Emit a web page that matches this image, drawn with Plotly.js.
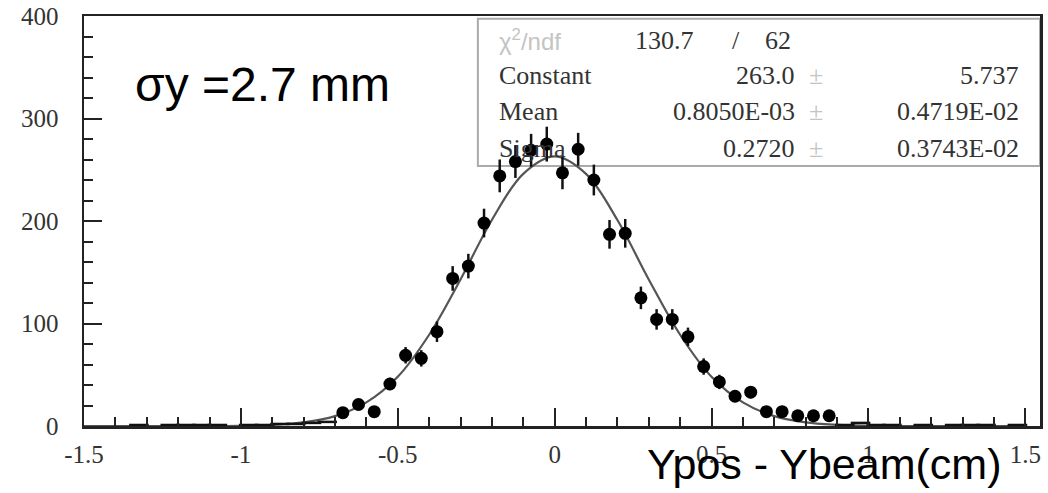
<!DOCTYPE html>
<html>
<head>
<meta charset="utf-8">
<script src="https://cdn.plot.ly/plotly-3.0.1.min.js"></script>
<style>html,body{margin:0;padding:0;background:#fff;}#chart{width:1048px;height:493px;}</style>
</head>
<body>
<div id="chart"></div>
<script>
// Histogram points (bin centres, counts) and their error bars
const binX = [-0.675,-0.625,-0.575,-0.525,-0.475,-0.425,-0.375,-0.325,-0.275,-0.225,-0.175,-0.125,-0.075,-0.025,
              0.025,0.075,0.125,0.175,0.225,0.275,0.325,0.375,0.425,0.475,0.525,0.575,0.625,0.675,0.725,0.775,0.825,0.875];
const counts = [13,21,14,41,69,66,92,144,156,198,244,258,269,275,
                247,270,240,187,188,125,104,104,87,58,43,29,33,14,14,10,10,10];
const countErr = [4,5,4,6,8,8,10,12,12,14,16,16,16,17,
                  16,16,15,14,14,11,10,10,9,8,7,5,6,4,4,3,3,3];
// Low-count tail bins (drawn as short dashes)
const tailX = [-1.325,-1.225,-1.175,-1.125,-1.075,-0.975,-0.925,-0.875,-0.825,-0.775,-0.725,
               0.925,0.975,1.025,1.075,1.175,1.275,1.325,1.375,1.475];
const tailY = [1,1,1,1,1,1,1,2,2,3,4,
               1,3,1,1,1,1,1,1,1];
// Fit curve
const fitX = [-1.5,-1.4,-1.3,-1.2,-1.1,-1.0,-0.9,-0.8,-0.7,-0.6,-0.5,-0.4,-0.3,-0.2,-0.1,0,
              0.1,0.2,0.3,0.4,0.5,0.6,0.7,0.8,0.9,1.0,1.1,1.2,1.3,1.4,1.5];
const fitY = [0,0,0,0,0,0.1,1.1,3.5,9.6,23,48,89,143,201,246,263,
              246,201,143,89,48,23,9.6,3.5,1.1,0.1,0,0,0,0,0];
// Axis ticks
const xTickVals = [-1.5,-1,-0.5,0,0.5,1,1.5];
const xTickText = ["-1.5","-1","-0.5","0","0.5","1","1.5"];
const yTickVals = [0,100,200,300,400];
const yTickText = ["0","100","200","300","400"];
// Fit statistics box
const statNames = ["Constant","Mean","Sigma"];
const statValues = ["263.0","0.8050E-03","0.2720"];
const statErrors = ["5.737","0.4719E-02","0.3743E-02"];
const chi2Text = ["130.7","/","62"];

const serif = "Liberation Serif, Times New Roman, serif";
const sans = "Liberation Sans, Arial, sans-serif";

const traces = [
  {x: fitX, y: fitY, type: 'scatter', mode: 'lines', line: {color: '#555', width: 2.2, shape: 'spline'}, hoverinfo: 'skip'},
  {x: tailX, y: tailY, type: 'scatter', mode: 'markers',
   marker: {symbol: 'line-ew', size: 14, color: '#111', line: {color: '#111', width: 2.5}}},
  {x: binX, y: counts, type: 'scatter', mode: 'markers',
   marker: {symbol: 'circle', size: 13, color: '#000'},
   error_y: {type: 'data', array: countErr, visible: true, color: '#111', thickness: 2.5, width: 0}}
];

const rowY = [0.854, 0.766, 0.678];
const annotations = [
  {text: 'σy =2.7 mm', xref: 'paper', yref: 'paper', x: 0.051, y: 0.834, xanchor: 'left', yanchor: 'middle',
   showarrow: false, font: {family: sans, size: 48, color: '#000'}},
  {text: 'Ypos - Ybeam(cm)', xref: 'paper', yref: 'paper', x: 0.961, y: -0.092, xanchor: 'right', yanchor: 'middle',
   showarrow: false, font: {family: sans, size: 43, color: '#000'}},
  {text: 'χ<sup>2</sup>/ndf', xref: 'paper', yref: 'paper', x: 0.432, y: 0.941, xanchor: 'left', yanchor: 'middle',
   showarrow: false, font: {family: sans, size: 24, color: '#c4c4c4'}},
  {text: chi2Text[0], xref: 'paper', yref: 'paper', x: 0.640, y: 0.941, xanchor: 'right', yanchor: 'middle',
   showarrow: false, font: {family: serif, size: 26, color: '#333'}},
  {text: chi2Text[1], xref: 'paper', yref: 'paper', x: 0.682, y: 0.941, xanchor: 'center', yanchor: 'middle',
   showarrow: false, font: {family: serif, size: 26, color: '#333'}},
  {text: chi2Text[2], xref: 'paper', yref: 'paper', x: 0.742, y: 0.941, xanchor: 'right', yanchor: 'middle',
   showarrow: false, font: {family: serif, size: 26, color: '#333'}}
];
statNames.forEach((n, i) => {
  annotations.push({text: n, xref: 'paper', yref: 'paper', x: 0.432, y: rowY[i], xanchor: 'left', yanchor: 'middle',
    showarrow: false, font: {family: serif, size: 26, color: '#333'}});
  annotations.push({text: statValues[i], xref: 'paper', yref: 'paper', x: 0.746, y: rowY[i], xanchor: 'right', yanchor: 'middle',
    showarrow: false, font: {family: serif, size: 26, color: '#333'}});
  annotations.push({text: '±', xref: 'paper', yref: 'paper', x: 0.766, y: rowY[i], xanchor: 'center', yanchor: 'middle',
    showarrow: false, font: {family: serif, size: 26, color: '#c4c4c4'}});
  annotations.push({text: statErrors[i], xref: 'paper', yref: 'paper', x: 0.980, y: rowY[i], xanchor: 'right', yanchor: 'middle',
    showarrow: false, font: {family: serif, size: 26, color: '#333'}});
});

const layout = {
  width: 1048, height: 493,
  margin: {l: 84, r: 8, t: 16, b: 67},
  paper_bgcolor: '#fff', plot_bgcolor: '#fff',
  showlegend: false,
  xaxis: {
    range: [-1.5, 1.547], showgrid: false, zeroline: false,
    tickmode: 'array', tickvals: xTickVals, ticktext: xTickText,
    ticks: 'inside', ticklen: 18, tickwidth: 2, tickcolor: '#222',
    minor: {dtick: 0.1, tick0: 0, ticks: 'inside', ticklen: 9, tickwidth: 2, tickcolor: '#222', showgrid: false},
    showline: true, mirror: true, linecolor: '#222', linewidth: 2.5,
    tickfont: {family: serif, size: 25, color: '#333'}, ticklabelstandoff: 4
  },
  yaxis: {
    range: [0, 400], showgrid: false, zeroline: false,
    tickmode: 'array', tickvals: yTickVals, ticktext: yTickText,
    ticks: 'inside', ticklen: 18, tickwidth: 2, tickcolor: '#222',
    minor: {dtick: 20, tick0: 0, ticks: 'inside', ticklen: 9, tickwidth: 2, tickcolor: '#222', showgrid: false},
    showline: true, mirror: true, linecolor: '#222', linewidth: 2.5,
    tickfont: {family: serif, size: 25, color: '#333'}, ticklabelstandoff: 18
  },
  shapes: [
    {type: 'rect', xref: 'paper', yref: 'paper', x0: 0.412, x1: 1.0, y0: 0.634, y1: 0.993,
     line: {color: '#aaa', width: 2}, fillcolor: 'rgba(255,255,255,0)', layer: 'below'}
  ],
  annotations: annotations
};

Plotly.newPlot('chart', traces, layout, {displayModeBar: false, staticPlot: true});
</script>
</body>
</html>
